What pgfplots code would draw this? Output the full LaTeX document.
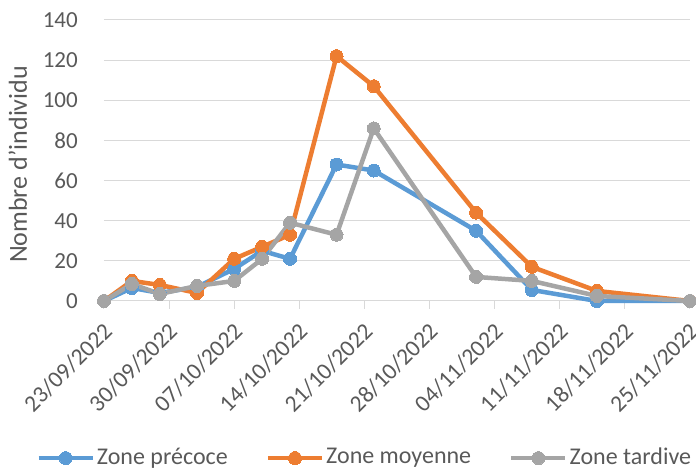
\documentclass[border=0pt]{standalone}
\usepackage{pgfplots}
\pgfplotsset{compat=1.18}
\usepackage{fontspec}
\setmainfont{Carlito}
\definecolor{cblue}{HTML}{5B9BD5}
\definecolor{corange}{HTML}{ED7D31}
\definecolor{cgray}{HTML}{A5A5A5}
\definecolor{gridc}{HTML}{D9D9D9}
\definecolor{txt}{HTML}{595959}
\begin{document}
\fontsize{24}{28}\selectfont
\begin{tikzpicture}
\begin{axis}[
  scale only axis, width=586pt, height=281pt,
  xmin=0, xmax=63, ymin=0, ymax=140,
  axis x line*=bottom, axis y line*=left,
  x axis line style={draw=gridc, line width=1pt, -},
  y axis line style={draw=none},
  ytick={0,20,...,140},
  ytick style={draw=none},
  ymajorgrids, grid style={draw=gridc, line width=1pt},
  xtick={0,7,...,63},
  xticklabels={23/09/2022,30/09/2022,07/10/2022,14/10/2022,21/10/2022,28/10/2022,04/11/2022,11/11/2022,18/11/2022,25/11/2022},
  xtick style={draw=gridc, line width=1pt},
  major tick length=8pt,
  xtick align=outside,
  tick label style={text=txt, font=\fontsize{23}{27}\selectfont},
  xticklabel style={xshift=-2pt, yshift=-12pt, rotate=45, anchor=north east, inner sep=0pt, font=\fontsize{23.5}{27}\selectfont},
  yticklabel style={anchor=east, inner sep=0pt, xshift=-26pt},
  /pgf/number format/assume math mode=true,
  clip=false,
  every axis y label/.style={at={(axis description cs:-0.147,0.486)}, rotate=90, anchor=center, text=txt, font=\fontsize{26}{30}\selectfont},
  ylabel={Nombre d'individu},
  legend style={at={(axis description cs:0.445,-0.559)}, anchor=center, draw=none, fill=none,
     legend columns=3, /tikz/every even column/.append style={column sep=36pt},
     font=\fontsize{24}{28}\selectfont, text=txt, inner sep=0pt,
     legend cell align=left},
  legend image code/.code={\draw[mark repeat=2, mark phase=2] plot coordinates {(0pt,0pt) (27pt,0pt) (54pt,0pt)};},
  every axis plot/.append style={line width=4.5pt, mark=*, mark size=6.5pt, line join=round},
]
\addplot[color=cblue, mark options={fill=cblue, draw=cblue, line width=0pt}] coordinates {
(0,0) (3,6.5) (6,4) (10,7) (14,16) (17,25) (20,21) (25,68) (29,65) (40,35) (46,5.5) (53,0) (63,0)};
\addlegendentry{Zone précoce}
\addplot[color=corange, mark options={fill=corange, draw=corange, line width=0pt}] coordinates {
(0,0) (3,10) (6,8) (10,4) (14,21) (17,27) (20,33) (25,122) (29,107) (40,44) (46,17) (53,5) (63,0)};
\addlegendentry{Zone moyenne}
\addplot[color=cgray, mark options={fill=cgray, draw=cgray, line width=0pt}] coordinates {
(0,0) (3,8.5) (6,3.5) (10,7.5) (14,10) (17,21) (20,39) (25,33) (29,86) (40,12) (46,10) (53,2.5) (63,0)};
\addlegendentry{Zone tardive}
\end{axis}
\pgfresetboundingbox
\path[use as bounding box] (-104pt,-169pt) rectangle (592pt,301pt);
\end{tikzpicture}
\end{document}
